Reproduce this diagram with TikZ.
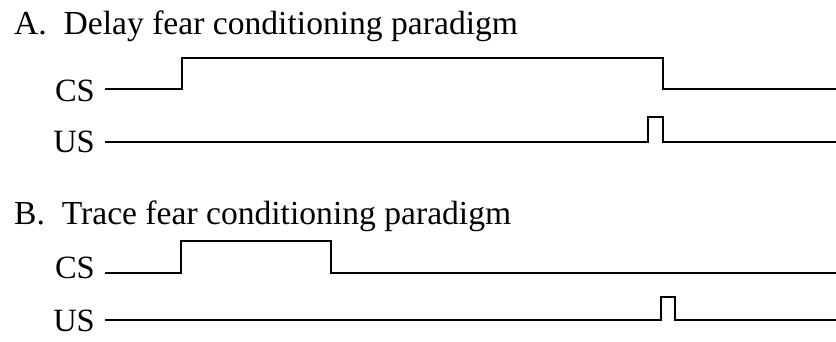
\documentclass[tikz,border=0pt]{standalone}
\usepackage{fontspec}
\setmainfont{Liberation Serif}
\begin{document}
\begin{tikzpicture}[x=1pt,y=-1pt,
  title/.style={anchor=base west,inner sep=0pt,font=\fontsize{33.6}{36}\selectfont},
  chan/.style={anchor=base east,inner sep=0pt,font=\fontsize{32.5}{36}\selectfont},
  trace/.style={line width=2.6pt,line join=miter,line cap=butt}]
\useasboundingbox (0,0) rectangle (836,341);
% Panel A: delay conditioning
\node[title] (tA) at (14,34) {A.\ \ Delay fear conditioning paradigm};
\node[chan] (csA) at (95,101) {CS};
\node[chan] (usA) at (95,152) {US};
\coordinate (csAend) at (836,89);
\coordinate (usAend) at (836,142);
\draw[trace] (105,89) -- (182,89) -- (182,58) -- (663,58) -- (663,89) -- (csAend);
\draw[trace] (105,142) -- (648,142) -- (648,117) -- (663,117) -- (663,142) -- (usAend);
% Panel B: trace conditioning
\node[title] (tB) at (14,224) {B.\ \ Trace fear conditioning paradigm};
\node[chan] (csB) at (95,278) {CS};
\node[chan] (usB) at (95,331) {US};
\coordinate (csBend) at (836,273);
\coordinate (usBend) at (836,320);
\draw[trace] (105,273) -- (181,273) -- (181,241) -- (331,241) -- (331,273) -- (csBend);
\draw[trace] (105,320) -- (661,320) -- (661,297) -- (675,297) -- (675,320) -- (usBend);
\end{tikzpicture}
\end{document}
